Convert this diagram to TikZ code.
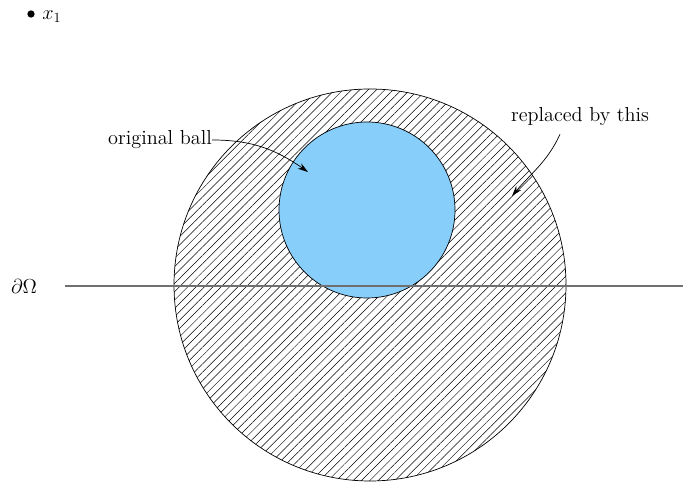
\documentclass[tikz,border=0pt]{standalone}
\usepackage{amsmath,amssymb}
\usepackage{xcolor}
\usepackage{tikz}
\usetikzlibrary{arrows.meta,patterns.meta}
\definecolor{ballblue}{HTML}{87CEFA}
\definecolor{rim}{HTML}{707070}
\tikzset{hatched/.style={draw=black,line width=0.5pt,
  pattern={Lines[angle=45,distance=4.2pt,line width=0.35pt]}},
  ball/.style={draw=black,line width=0.5pt,fill=ballblue},
  boundary/.style={draw=rim,line width=0.8pt},
  note/.style={font=\Large,inner sep=0pt},
  arrow/.style={-{Stealth[length=2.6mm,width=1.6mm]},line width=0.5pt}}

\begin{document}
\begin{tikzpicture}
\useasboundingbox (0,0) rectangle (17.075,12.075);
\draw[hatched] (9.25,4.95) coordinate (c) circle (4.9);
\draw[ball] (9.175,6.825) coordinate (b) circle (2.2);
\coordinate (l) at (1.625,4.925);
\coordinate (r) at (17.075,4.925);
\draw[boundary] (l) -- (r);
\node[font=\Large] (omega) at (0.6,4.925) {$\partial\Omega$};
\fill (0.775,11.725) coordinate (p) circle (2.6pt);
\node[font=\Large,anchor=west,inner sep=0pt] (x1) at (1.05,11.65) {$x_1$};
\node[note] (orig) at (4.0,8.575) {original ball};
\node[note] (repl) at (14.5,9.15) {replaced by this};
\coordinate (o) at (7.7,7.775);
\coordinate (n) at (12.8,7.175);
\draw[arrow] (orig.east) to[out=0,in=145] (o);
\draw[arrow] ([xshift=-0.5cm,yshift=-0.2cm]repl.south) to[out=-115,in=50] (n);
\end{tikzpicture}
\end{document}
